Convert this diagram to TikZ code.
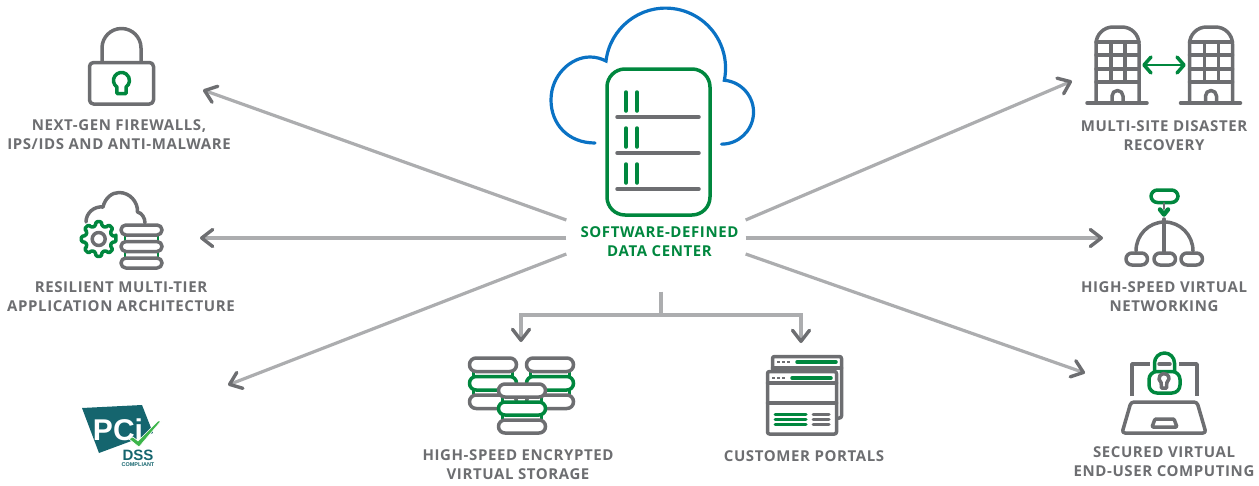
\documentclass[tikz,border=0pt]{standalone}
\usepackage{fontspec}
\usetikzlibrary{arrows.meta,calc}
\setmainfont{Open Sans}
\newfontfamily\capsfont[LetterSpace=4]{Open Sans}
\newfontfamily\pcifont{Liberation Sans}
\definecolor{icongrey}{RGB}{109,110,113}
\definecolor{linkgrey}{RGB}{172,173,175}
\definecolor{sdgreen}{RGB}{0,135,62}
\definecolor{cloudblue}{RGB}{10,114,196}
\definecolor{pciteal}{RGB}{21,101,110}
\definecolor{pcigreen}{RGB}{60,181,74}
\tikzset{
  greyline/.style={draw=icongrey, line width=3.5pt, line cap=round, line join=round},
  greenline/.style={draw=sdgreen, line width=3.5pt, line cap=round, line join=round},
  link/.style={draw=linkgrey, line width=3.2pt},
  linkarrow/.style={link, -{Straight Barb[color=icongrey, length=11pt, width=17pt, line width=3.4pt, round]}},
  caption/.style={text=icongrey, font=\capsfont\bfseries\fontsize{15}{19}\selectfont, align=center, inner sep=0pt},
}
% three stacked pods: x, y, width, height, step, colour of the middle one
\newcommand{\podstack}[6]{
  \draw [greenline, line width=2.5pt] (#1+4, #2+#4) -- (#1+4, #2+2*#5);
  \draw [greenline, line width=2.5pt] (#1+#3-4, #2+#4) -- (#1+#3-4, #2+2*#5);
  \draw [greyline, fill=white, rounded corners=#4*0.49pt] (#1, #2) rectangle (#1+#3, #2+#4);
  \draw [#6, fill=white, rounded corners=#4*0.49pt] (#1, #2+#5) rectangle (#1+#3, #2+#5+#4);
  \draw [greyline, fill=white, rounded corners=#4*0.49pt] (#1, #2+2*#5) rectangle (#1+#3, #2+2*#5+#4);
}
\begin{document}
\begin{tikzpicture}[x=1pt, y=1pt, yscale=-1]
  \useasboundingbox (0,0) rectangle (1259,485);

  % centre
  \draw [cloudblue, line width=3.2pt, line cap=round, line join=miter] (595,143) .. controls (568,143) and (551,124) .. (551,100)
    .. controls (551,75) and (571,57) .. (590,57) .. controls (596,57) and (601,58.5) .. (606,61)
    arc (186.8:371.7:60) arc (-85:90:32 and 32);
  \draw [greenline, rounded corners=18pt] (607,69) rectangle (710,215);
  \foreach \y in {117,153,189} {
    \draw [greyline] (617,\y) -- (699,\y);
    \draw [greenline] (626,\y-25) -- (626,\y-6);
    \draw [greenline] (637,\y-25) -- (637,\y-6);
  }
  \node [caption, text=sdgreen] (hub) at (659.5,241.5) {SOFTWARE-DEFINED\\DATA CENTER};

  % labels
  \node [caption] (firewall) at (119,134.5) {NEXT-GEN FIREWALLS,\\IPS/IDS AND ANTI-MALWARE};
  \node [caption] (resilient) at (121,296.5) {RESILIENT MULTI-TIER\\APPLICATION ARCHITECTURE};
  \node [caption] (storage) at (518,465) {HIGH-SPEED ENCRYPTED\\VIRTUAL STORAGE};
  \node [caption] (portals) at (804,456) {CUSTOMER PORTALS};
  \node [caption] (recovery) at (1164,135.5) {MULTI-SITE DISASTER\\RECOVERY};
  \node [caption] (network) at (1164,296.5) {HIGH-SPEED VIRTUAL\\NETWORKING};
  \node [caption] (secured) at (1164,461.5) {SECURED VIRTUAL\\END-USER COMPUTING};

  % connectors
  \coordinate (firewallend) at (203,90);
  \coordinate (resilientend) at (200,238);
  \coordinate (pciend) at (228,385);
  \coordinate (recoveryend) at (1072,81);
  \coordinate (networkend) at (1103,238);
  \coordinate (securedend) at (1085,373);
  \coordinate (fork) at (661,315);
  \coordinate (storageend) at (521,342);
  \coordinate (portalsend) at (801,343);
  \draw [linkarrow] ($(hub.west)+(-14,-21.5)$) -- (firewallend);
  \draw [linkarrow] ($(hub.west)+(-14,-3.5)$) -- (resilientend);
  \draw [linkarrow] ($(hub.west)+(-14,12.5)$) -- (pciend);
  \draw [linkarrow] ($(hub.east)+(7,-21.5)$) -- (recoveryend);
  \draw [linkarrow] ($(hub.east)+(7,-3.5)$) -- (networkend);
  \draw [linkarrow] ($(hub.east)+(7,12.5)$) -- (securedend);
  \draw [link] ($(hub.south)+(1.5,35)$) -- (fork);
  \draw [linkarrow] (fork) -| (storageend);
  \draw [linkarrow] (fork) -| (portalsend);

  % padlock
  \draw [greyline, rounded corners=4pt] (89.5,62.5) rectangle (153.5,104);
  \draw [greyline] (102,62) -- (102,48) arc (180:360:19.5) -- (141,62);
  \draw [greenline] (117,93.5) -- (116.9,87) arc (125:415:8) -- (126,93.5) -- cycle;

  % cloud, gear and pods
  \draw [greyline] (86,222) .. controls (86,213) and (94,206) .. (103,207) .. controls (105,198) and (112,192.5) .. (119,192.5)
    .. controls (130,192.5) and (138,202) .. (137.5,212) .. controls (142,213) and (145,218) .. (145,223);
  \begin{scope}[shift={(98.7,239)}]
    \draw [greenline, fill=white, rounded corners=1.2pt] (-9:17.5)
      \foreach \a in {0,45,...,315} { -- (\a-9:17.5) -- (\a+9:17.5) -- (\a+14:13.5) -- (\a+31:13.5) } -- cycle;
    \draw [greyline] (0,0) circle [radius=6.5];
  \end{scope}
  \podstack{121}{225}{41}{10}{16.5}{greyline}

  % towers
  \foreach \dx in {0,93.5} {
    \begin{scope}[shift={(\dx,0)}]
      \draw [greyline] (1096,103) -- (1096,44) arc (180:270:17) -- (1122,27) arc (270:360:17) -- (1139,103);
      \foreach \y in {42,55,69,82} \draw [greyline] (1096,\y) -- (1139,\y);
      \foreach \x in {1111,1125} \draw [greyline] (\x,42) -- (\x,82);
      \draw [greyline] (1087,103) -- (1147,103);
      \draw [greyline] (1112,103) -- (1112,96) arc (180:360:5.5) -- (1123,103);
    \end{scope}
  }
  \draw [greenline, line width=2pt] (1145,65) -- (1183,65);
  \draw [greenline] (1151,57) -- (1144,65) -- (1151,73);
  \draw [greenline] (1177,57) -- (1184,65) -- (1177,73);

  % network tree
  \draw [greenline, rounded corners=6.5pt] (1151,190) rectangle (1178,202.5);
  \draw [greyline, line width=2pt] (1164,203) -- (1164,209);
  \draw [greenline, line width=4.5pt] (1160,209.5) -- (1164,214.5) -- (1168,209.5);
  \draw [greyline] (1164,219) -- (1164,252);
  \draw [greyline] (1136,251) arc (180:360:28.5 and 29);
  \foreach \x in {1126,1154,1181} \draw [greyline, rounded corners=6pt] (\x,253) rectangle (\x+21.5,265);

  % laptop
  \draw [greyline, line cap=butt] (1132,396) -- (1132,364) -- (1150,364);
  \draw [greyline, line cap=butt] (1179,364) -- (1197,364) -- (1197,396);
  \draw [greyline] (1159,364) -- (1170,364);
  \draw [greenline, rounded corners=8pt] (1149,371.5) rectangle (1180,393);
  \draw [greenline] (1154.5,371) -- (1154.5,363) arc (180:360:10) -- (1174.5,371);
  \draw [greyline] (1161.5,388) -- (1161.1,382.6) arc (125:415:5) -- (1166.5,388) -- cycle;
  \draw [greyline, rounded corners=3pt] (1131,402) -- (1197,402) -- (1206,433) -- (1122,433) -- cycle;
  \draw [greyline, rounded corners=1pt] (1155,419) -- (1174,419) -- (1177,427) -- (1152,427) -- cycle;

  % encrypted storage
  \podstack{469.5}{358}{47}{13.5}{18.5}{greenline}
  \podstack{526.5}{358}{47}{13.5}{18.5}{greenline}
  \podstack{498.5}{384}{47}{13}{18}{greenline}

  % portal windows
  \draw [greyline, fill=white, rounded corners=2pt] (772.5,356.5) rectangle (841.5,418);
  \draw [greyline] (772.5,368) -- (841.5,368);
  \draw [greenline] (797,362) -- (836,362);
  \draw [greyline, line width=2pt, dash pattern=on 2.5pt off 2.5pt, line cap=butt] (777,362) -- (790,362);
  \draw [greyline, fill=white, rounded corners=2pt] (767.5,371.5) rectangle (836.5,434);
  \draw [greyline] (767.5,383) -- (836.5,383);
  \draw [greyline] (767.5,403) -- (836.5,403);
  \draw [greenline] (792,378) -- (831,378);
  \draw [greyline, line width=2pt, dash pattern=on 2.5pt off 2.5pt, line cap=butt] (772,378) -- (785,378);
  \foreach \y in {414,419,424} {
    \draw [greenline, line width=3pt] (775,\y) -- (806,\y);
    \draw [greyline, line width=3pt] (813,\y) -- (829,\y);
  }

  % pci badge
  \fill [pciteal] (82,408) -- (142,405) -- (153,433) -- (99,453) -- cycle;
  \node [text=white, font=\pcifont\bfseries\fontsize{30}{30}\selectfont, inner sep=0pt] (pcimark) at (118,430) {PCi};
  \fill [pcigreen, draw=white, line width=0.6pt] (129,439) -- (133,437) -- (138,441) -- (158,421) -- (161,421) -- (139,447) -- cycle;
  \node [text=pciteal, font=\pcifont\bfseries\fontsize{15}{15}\selectfont, inner sep=0pt] (dssmark) at (138,455.5) {DSS};
  \node [text=pciteal, font=\pcifont\bfseries\fontsize{5.5}{6}\selectfont, inner sep=0pt] (compliant) at (138,465) {COMPLIANT};
\end{tikzpicture}
\end{document}
